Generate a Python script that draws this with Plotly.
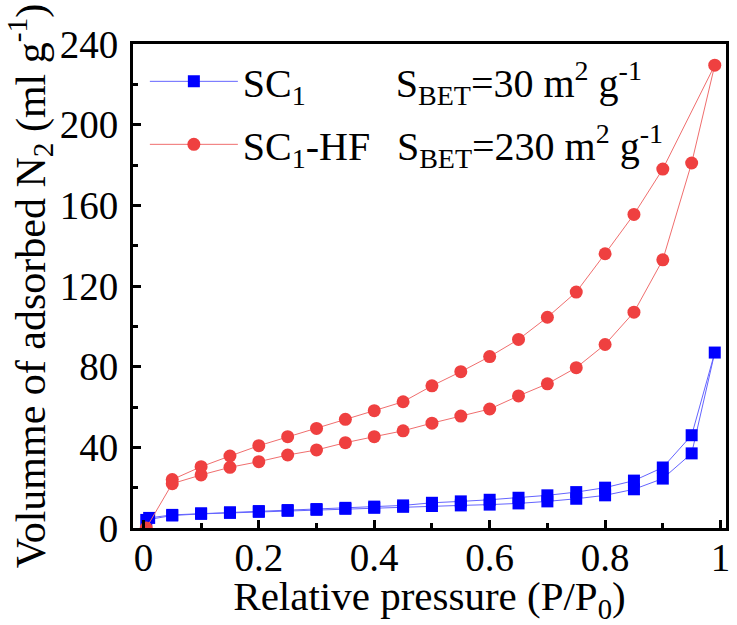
import plotly.graph_objects as go

# ---- data ----
p_ads = [0.005, 0.05, 0.1, 0.15, 0.2, 0.25, 0.3, 0.35, 0.4, 0.45, 0.5,
         0.55, 0.6, 0.65, 0.7, 0.75, 0.8, 0.85, 0.9, 0.95, 0.99]
sc1_ads = [4.0, 6.2, 7.0, 7.5, 8.0, 8.5, 9.0, 9.5, 10.0, 10.5, 10.9,
           11.2, 11.6, 12.2, 13.2, 14.5, 16.2, 19.2, 24.5, 37.0, 87.0]
p_des_sc1 = [0.95, 0.9, 0.85, 0.8, 0.75, 0.7, 0.65, 0.6, 0.55, 0.5,
             0.45, 0.4, 0.35, 0.3, 0.25, 0.2, 0.15, 0.1, 0.05, 0.01]
sc1_des = [46.0, 30.0, 23.5, 20.0, 17.8, 16.2, 15.0, 14.0, 13.2, 12.5,
           11.2, 10.6, 10.0, 9.4, 8.9, 8.4, 7.8, 7.3, 6.5, 5.0]

hf_ads = [0.0, 22.0, 26.3, 30.1, 32.9, 36.2, 38.7, 42.3, 45.3, 48.2, 52.0,
          55.5, 59.0, 65.5, 71.5, 79.5, 91.0, 107.0, 133.0, 181.0, 229.5]
p_des_hf = [0.9, 0.85, 0.8, 0.75, 0.7, 0.65, 0.6, 0.55, 0.5,
            0.45, 0.4, 0.35, 0.3, 0.25, 0.2, 0.15, 0.1, 0.05]
hf_des = [178.0, 155.5, 136.0, 117.0, 104.5, 93.5, 85.0, 77.5, 70.5,
          62.6, 58.2, 53.9, 49.4, 45.3, 40.8, 35.7, 30.4, 24.0]

name_sc1 = "SC<sub>1</sub>" + "\u00a0" * 9 + "S<sub>BET</sub>=30 m<sup>2</sup> g<sup>-1</sup>"
name_hf = "SC<sub>1</sub>-HF" + "\u00a0" * 2 + "\u2006" + "S<sub>BET</sub>=230 m<sup>2</sup> g<sup>-1</sup>"

x_ticks = [0, 0.2, 0.4, 0.6, 0.8, 1]
x_ticktext = ["0", "0.2", "0.4", "0.6", "0.8", "1"]
y_ticks = [0, 40, 80, 120, 160, 200, 240]

FONT = "Liberation Serif"

fig = go.Figure()
fig.add_trace(go.Scatter(
    x=p_ads + p_des_sc1, y=sc1_ads + sc1_des, mode="lines+markers", name=name_sc1,
    legendgroup="a",
    line=dict(color="rgb(100,100,255)", width=1),
    marker=dict(symbol="square", size=12, color="#0000ff", line=dict(width=0)),
))
fig.add_trace(go.Scatter(
    x=p_ads + p_des_hf, y=hf_ads + hf_des, mode="lines+markers", name=name_hf,
    legendgroup="b",
    line=dict(color="rgb(240,110,110)", width=1),
    marker=dict(symbol="circle", size=13, color="#ef4040", line=dict(width=0)),
))

axis_common = dict(
    showline=True, linecolor="black", linewidth=3, mirror=True,
    ticks="inside", ticklen=8, tickwidth=3, tickcolor="black",
    showgrid=False, zeroline=False,
    tickfont=dict(family=FONT, size=39, color="black"),
)

fig.update_xaxes(
    range=[-0.018, 1.0095], tickvals=x_ticks, ticktext=x_ticktext,
    minor=dict(ticks="inside", ticklen=5, tickwidth=3, tickcolor="black", dtick=0.1, tick0=0, showgrid=False),
    title=dict(text="Relative pressure (P/P<sub>0</sub>)", font=dict(family=FONT, size=41, color="black"), standoff=0),
    ticklabelstandoff=-7,
    **axis_common,
)
fig.update_yaxes(
    range=[0, 240], tickvals=y_ticks,
    minor=dict(ticks="inside", ticklen=5, tickwidth=3, tickcolor="black", dtick=20, tick0=0, showgrid=False),
    title=dict(text="Volumme of adsorbed N<sub>2</sub> (ml g<sup>-1</sup>)", font=dict(family=FONT, size=42, color="black"), standoff=2),
    ticklabelstandoff=4,
    **axis_common,
)

fig.update_layout(
    width=737, height=625,
    margin=dict(l=133, r=7, t=44, b=97),
    plot_bgcolor="white", paper_bgcolor="white",
    font=dict(family=FONT, color="black"),
    showlegend=True,
    legend=dict(x=0.02, y=0.99, xanchor="left", yanchor="top",
                bgcolor="rgba(0,0,0,0)", font=dict(family=FONT, size=40, color="black"),
                itemwidth=88, traceorder="grouped", tracegroupgap=8),
)

fig.write_html("out.html")
